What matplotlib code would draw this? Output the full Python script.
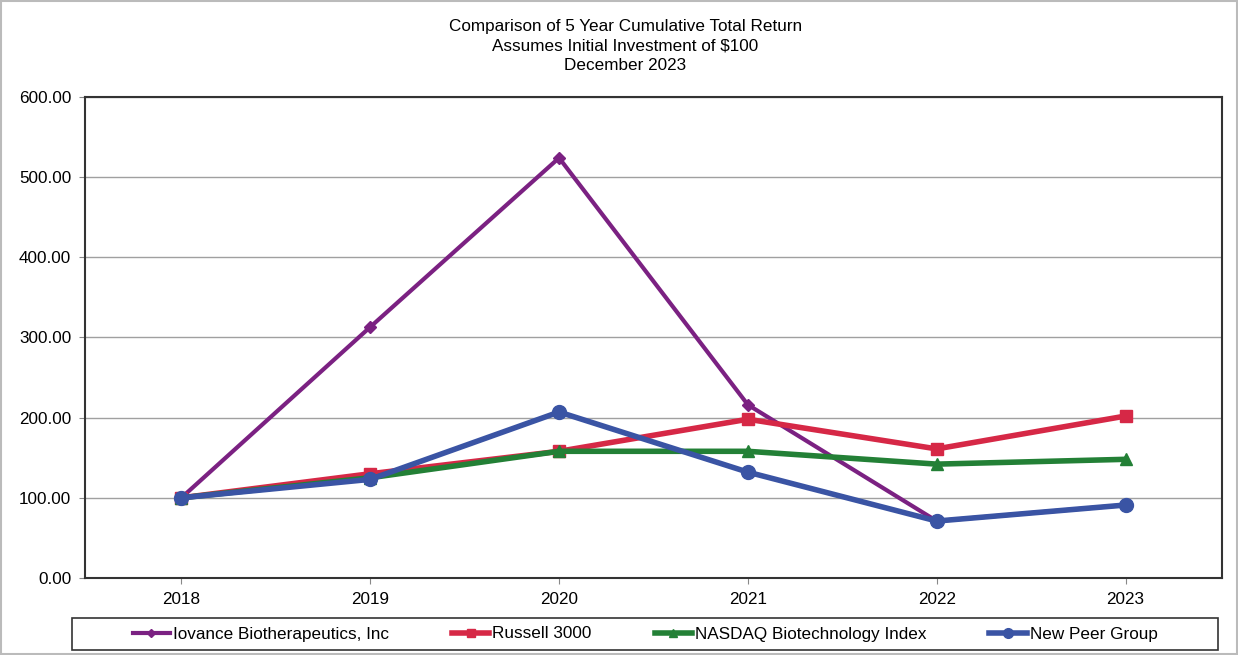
import matplotlib
matplotlib.use("Agg")
import matplotlib.pyplot as plt
from matplotlib.patches import Rectangle

years = ["2018", "2019", "2020", "2021", "2022", "2023"]
iovance = [100, 313, 524, 216, 71, 91]
russell = [100, 130, 158, 198, 161, 202]
nasdaq = [100, 125, 158, 158, 142, 148]
peer = [100, 123, 207, 132, 71, 91]
labels = ["Iovance Biotherapeutics, Inc", "Russell 3000", "NASDAQ Biotechnology Index", "New Peer Group"]
title_lines = ["Comparison of 5 Year Cumulative Total Return",
               "Assumes Initial Investment of $100",
               "December 2023"]

plt.rcParams['font.family'] = ['Liberation Sans', 'DejaVu Sans']
FS = 12.3

fig = plt.figure(figsize=(12.38, 6.55), dpi=100)
fig.patches.append(Rectangle((0.001, 0.001), 0.998, 0.998, transform=fig.transFigure,
                             fill=False, edgecolor='#bbbbbb', lw=1.5))
ax = fig.add_axes([0.0687, 0.1176, 0.9183, 0.7344])
x = list(range(len(years)))
series = [
    (iovance, '#7B2182', 'D', 6, 3),
    (russell, '#D62846', 's', 8, 4),
    (nasdaq, '#238036', '^', 8, 4),
    (peer, '#3A54A4', 'o', 10, 4),
]
lines = []
for (vals, col, mk, ms, lw), lab in zip(series, labels):
    l, = ax.plot(x, vals, color=col, marker=mk, markersize=ms, lw=lw, label=lab)
    lines.append(l)

ax.set_xlim(-0.51, 5.51)
ax.set_ylim(0, 600)
ax.set_yticks(range(0, 601, 100))
ax.set_yticklabels([f"{v:.2f}" for v in range(0, 601, 100)], fontsize=FS)
ax.set_xticks(x)
ax.set_xticklabels(years, fontsize=FS)
ax.yaxis.grid(True, color='#a0a0a0', lw=1)
ax.set_axisbelow(True)
for s in ax.spines.values():
    s.set_color('#333333')
    s.set_linewidth(1.5)
ax.tick_params(axis='both', length=4, color='#888888', pad=6)

for txt, yc in zip(title_lines, [27, 46.5, 66]):
    fig.text(0.505, 1 - yc / 655, txt, ha='center', va='center', fontsize=FS)

fig.patches.append(Rectangle((72 / 1238, 5 / 655), 1146 / 1238, 32 / 655, transform=fig.transFigure,
                             fill=False, edgecolor='#333333', lw=1.2))
leg = fig.legend(handles=lines, loc='center', bbox_to_anchor=(0.521, 21 / 655),
                 ncol=4, fontsize=FS, frameon=False,
                 handlelength=2.2, handletextpad=0.15, borderaxespad=0, columnspacing=3.7,
                 markerscale=0.7)

fig.savefig("out.png", dpi=100)
